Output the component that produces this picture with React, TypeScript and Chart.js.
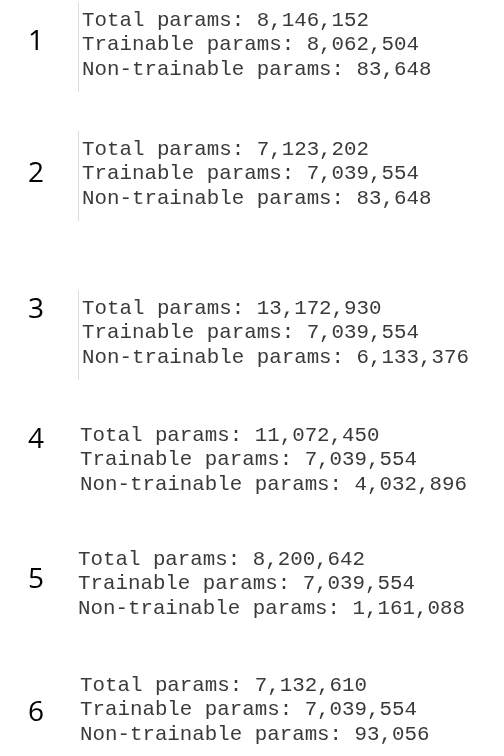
import React, { useEffect, useRef } from "react";
import Chart from "chart.js/auto";

const blockLabels = ["1", "2", "3", "4", "5", "6"];
const totalParams = ["8,146,152", "7,123,202", "13,172,930", "11,072,450", "8,200,642", "7,132,610"];
const trainableParams = ["8,062,504", "7,039,554", "7,039,554", "7,039,554", "7,039,554", "7,039,554"];
const nonTrainableParams = ["83,648", "83,648", "6,133,376", "4,032,896", "1,161,088", "93,056"];

// layout (pixel units on a 504x756 hidden scale)
const blockTop = [20, 149, 308, 435, 559, 685];
const textX = [82, 82, 82, 80, 78, 80];
const numeralY = [42, 174, 310, 440, 580, 713];
const showRule = [true, true, true, false, false, false];

const App = () => {
  const chartRef = useRef<HTMLCanvasElement | null>(null);

  useEffect(() => {
    document.body.style.margin = "0";
    const ctx = chartRef.current?.getContext("2d");
    if (!ctx) return;

    const textPlugin = {
      id: "paramText",
      afterDatasetsDraw(chart: any) {
        const { ctx: c, scales } = chart;
        const xs = scales.x;
        const ys = scales.y;
        c.save();
        blockLabels.forEach((lbl, i) => {
          const lines = [
            "Total params: " + totalParams[i],
            "Trainable params: " + trainableParams[i],
            "Non-trainable params: " + nonTrainableParams[i],
          ];
          if (showRule[i]) {
            c.strokeStyle = "#dcdcdc";
            c.lineWidth = 1;
            c.beginPath();
            c.moveTo(xs.getPixelForValue(78) + 0.5, ys.getPixelForValue(blockTop[i] - 18));
            c.lineTo(xs.getPixelForValue(78) + 0.5, ys.getPixelForValue(blockTop[i] + 72));
            c.stroke();
          }
          c.fillStyle = "#000";
          c.font = "28px 'Open Sans', sans-serif";
          c.textAlign = "center";
          c.textBaseline = "middle";
          c.fillText(lbl, xs.getPixelForValue(36), ys.getPixelForValue(numeralY[i]));
          c.fillStyle = "#3a3a3a";
          c.font = "20.8px 'Liberation Mono', monospace";
          c.textAlign = "left";
          lines.forEach((ln, j) => {
            c.fillText(ln, xs.getPixelForValue(textX[i]), ys.getPixelForValue(blockTop[i] + j * 24.5));
          });
        });
        c.restore();
      },
    };

    const chart = new Chart(ctx, {
      type: "scatter",
      data: {
        datasets: [
          {
            data: blockLabels.map((_, i) => ({ x: textX[i], y: blockTop[i] })),
            pointRadius: 0,
          },
        ],
      },
      options: {
        animation: false,
        responsive: false,
        layout: { padding: 0 },
        plugins: { legend: { display: false }, tooltip: { enabled: false } },
        scales: {
          x: { type: "linear", min: 0, max: 504, display: false },
          y: { type: "linear", min: 0, max: 756, reverse: true, display: false },
        },
      },
      plugins: [textPlugin],
    });

    return () => {
      chart.destroy();
    };
  }, []);

  return (
    <div style={{ width: 504, height: 756, background: "#fff" }}>
      <canvas ref={chartRef} width={504} height={756} style={{ display: "block" }} />
    </div>
  );
};

export default App;
